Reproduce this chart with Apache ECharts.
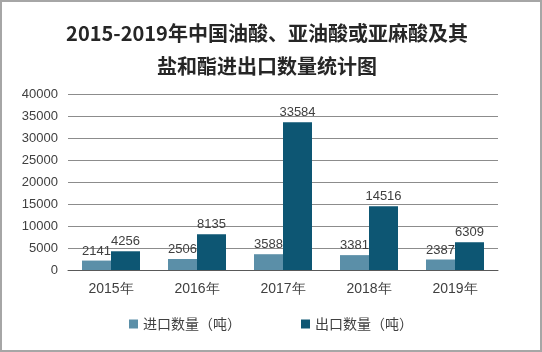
<!DOCTYPE html>
<html>
<head>
<meta charset="utf-8">
<script src="https://cdn.jsdelivr.net/npm/echarts@6/dist/echarts.min.js"></script>
<style>
  html, body { margin: 0; padding: 0; background: #fff; }
  #chart { width: 542px; height: 352px; box-sizing: border-box; border: 2px solid #a6a6a6; }
</style>
</head>
<body>
<div id="chart"></div>
<script>
// 数据
const categories = ['2015年', '2016年', '2017年', '2018年', '2019年'];
const importValues = [2141, 2506, 3588, 3381, 2387];
const exportValues = [4256, 8135, 33584, 14516, 6309];
const seriesNames = ['进口数量（吨）', '出口数量（吨）'];

const chart = echarts.init(document.getElementById('chart'));

const labelStyle = {
  show: true,
  position: 'top',
  distance: 3,
  color: '#404040',
  fontSize: 13,
  fontFamily: 'Liberation Sans, Arial, sans-serif'
};

chart.setOption({
  animation: false,
  title: {
    text: '2015-2019年中国油酸、亚油酸或亚麻酸及其\n盐和酯进出口数量统计图',
    left: 260,
    textAlign: 'center',
    top: 10,
    textStyle: {
      fontSize: 20,
      fontWeight: 'bold',
      color: '#262626',
      lineHeight: 33,
      fontFamily: 'Noto Sans CJK SC'
    }
  },
  legend: {
    bottom: 14,
    left: 'center',
    itemWidth: 9,
    itemHeight: 9,
    itemGap: 60,
    icon: 'rect',
    textStyle: { fontSize: 14, color: '#404040', fontFamily: 'Noto Sans CJK SC' },
    data: seriesNames
  },
  grid: { left: 66, right: 42, top: 92, bottom: 80 },
  xAxis: {
    type: 'category',
    data: categories,
    axisTick: { show: false },
    axisLine: { lineStyle: { color: '#595959', width: 1 } },
    axisLabel: { color: '#404040', fontSize: 14, margin: 12, fontFamily: 'Liberation Sans, Arial, sans-serif' }
  },
  yAxis: {
    type: 'value',
    min: 0,
    max: 40000,
    interval: 5000,
    axisLine: { show: false },
    axisTick: { show: false },
    axisLabel: {
      color: '#404040',
      fontSize: 13,
      margin: 10,
      fontFamily: 'Liberation Sans, Arial, sans-serif',
      formatter: v => String(v)
    },
    splitLine: { lineStyle: { color: '#8c8c8c', width: 1 } }
  },
  series: [
    {
      name: seriesNames[0],
      type: 'bar',
      data: importValues,
      barWidth: 29,
      barGap: '0%',
      itemStyle: { color: '#5b8fa8' },
      label: labelStyle
    },
    {
      name: seriesNames[1],
      type: 'bar',
      data: exportValues,
      barWidth: 29,
      itemStyle: { color: '#0d5673' },
      label: labelStyle
    }
  ]
});
</script>
</body>
</html>
